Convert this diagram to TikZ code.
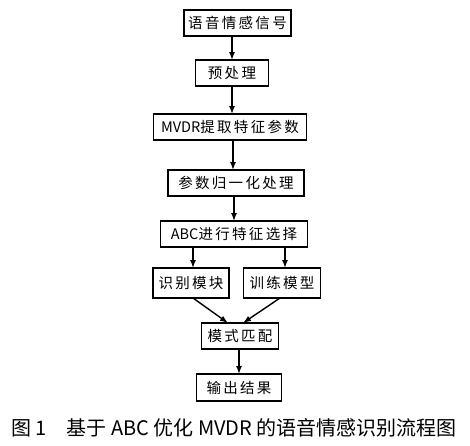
\documentclass[tikz,border=0pt]{standalone}
\usepackage{fontspec}
\newfontfamily\cjk{Noto Sans CJK SC}
\newfontfamily\cjkwide[LetterSpace=16]{Noto Sans CJK SC}
\usetikzlibrary{arrows.meta}

\begin{document}
\begin{tikzpicture}[x=1pt, y=-1pt,
    every node/.style={font=\cjkwide\fontsize{14.5}{14.5}\selectfont, inner sep=0pt, outer sep=0pt},
    box/.style={draw=black, line width=1.7pt, minimum height=26pt},
    flow/.style={-{Latex[length=8pt,width=6pt]}, line width=1.4pt}]
    \useasboundingbox (0,0) rectangle (470,445);

    % Flow boxes
    \node[box, minimum width=107pt] (signal) at (237.5, 23) {语音情感信号};
    \node[box, minimum width=73pt] (pre) at (232, 73) {预处理};
    \node[box, minimum width=153pt] (mvdr) at (230, 127) {{\cjk MVDR}提取特征参数};
    \node[box, minimum width=136pt] (norm) at (236, 183) {参数归一化处理};
    \node[box, minimum width=147pt] (abc) at (234, 234) {{\cjk ABC}进行特征选择};
    \node[box, minimum width=76pt, minimum height=30pt] (recog) at (191, 283) {识别模块};
    \node[box, minimum width=77pt, minimum height=30pt] (train) at (282, 283) {训练模型};
    \node[box, minimum width=77pt] (match) at (240, 336) {模式匹配};
    \node[box, minimum width=85pt, minimum height=27pt] (result) at (239, 387.5) {输出结果};

    % Arrows
    \draw[flow] (pre.north |- signal.south) -- (pre.north);
    \draw[flow] (pre.south) -- (pre.south |- mvdr.north);
    \draw[flow] ([xshift=3pt]mvdr.south) -- ([xshift=3pt]mvdr.south |- norm.north);
    \draw[flow] (norm.south -| abc.north) -- (abc.north);
    \draw[flow] ([xshift=2pt]recog.north |- abc.south) -- ([xshift=2pt]recog.north);
    \draw[flow] ([xshift=3pt]train.north |- abc.south) -- ([xshift=3pt]train.north);
    \draw[flow] ([xshift=2pt]recog.south) -- ([xshift=-12pt]match.north);
    \draw[flow] ([xshift=-2pt]train.south) -- ([xshift=3pt]match.north);
    \draw[flow] (match.south -| result.north) -- (result.north);

    % Caption
    \node[font=\cjk\fontsize{20}{20}\selectfont] (caption) at (234, 428) {图 1\quad 基于 ABC 优化 MVDR 的语音情感识别流程图};
\end{tikzpicture}
\end{document}
